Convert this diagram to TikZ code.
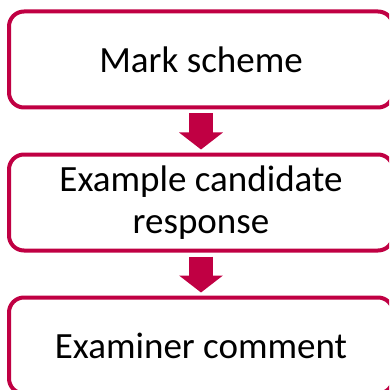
\documentclass[tikz,border=0pt]{standalone}
\usepackage{fontspec}
\setmainfont{Carlito}
\usepackage{xcolor}
\usetikzlibrary{positioning, arrows.meta}
\definecolor{schemered}{RGB}{192,0,67}
\tikzset{
  stagebox/.style={
    rectangle,
    draw=schemered,
    fill=white,
    line width=4pt,
    rounded corners=15pt,
    minimum width=384pt,
    minimum height=96pt,
    align=center,
    font=\fontsize{37}{42}\selectfont,
    inner sep=0pt
  },
  stagearrow/.style={
    draw=schemered,
    line width=24pt,
    -{Triangle[length=17pt,width=43pt]},
    shorten <=4pt,
    shorten >=3pt
  }
}
\begin{document}
\begin{tikzpicture}[x=1pt, y=1pt, node distance=43pt]
  \useasboundingbox (0,0) rectangle (389,-390);
  \clip (0,0) rectangle (389,-390);
  \node[stagebox] (mark) at (201,-59.5) {Mark scheme};
  \node[stagebox, below=of mark] (example) {Example candidate\\response};
  \node[stagebox, below=of example] (comment) {Examiner comment};

  \draw[stagearrow] (mark) -- (example);
  \draw[stagearrow] (example) -- (comment);
\end{tikzpicture}
\end{document}
